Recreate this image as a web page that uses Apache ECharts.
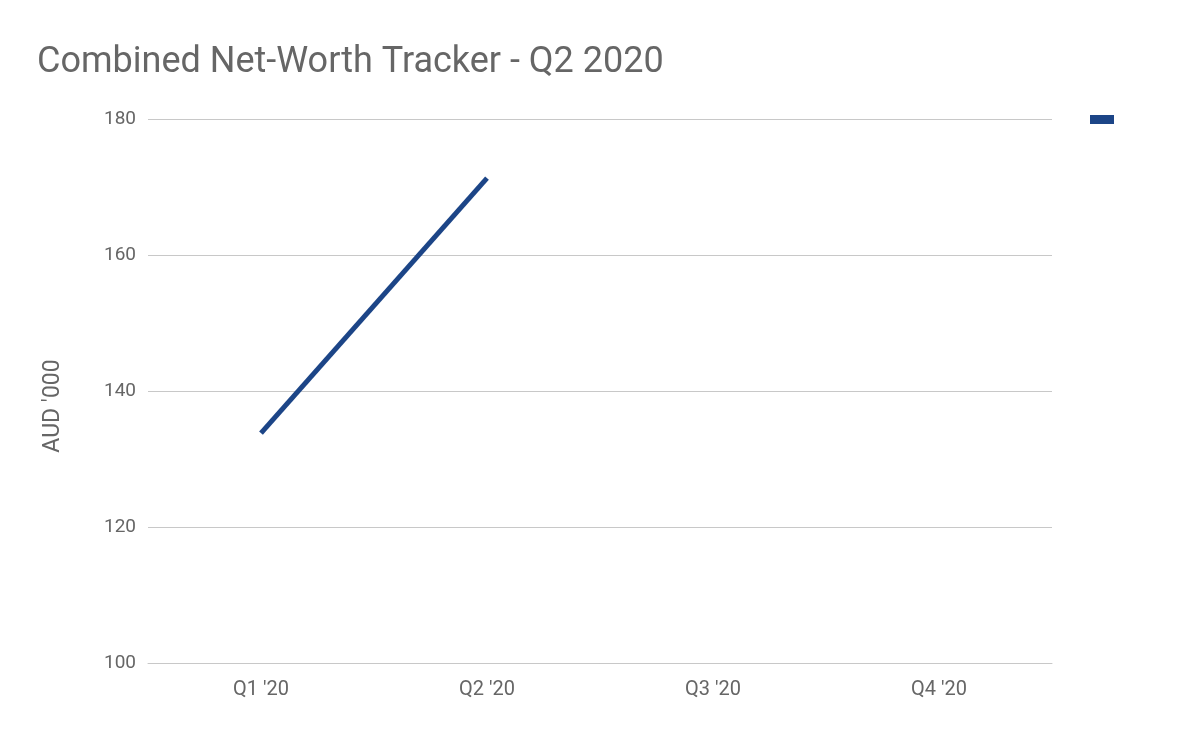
<!DOCTYPE html>
<html>
<head>
<meta charset="utf-8">
<script src="https://cdn.jsdelivr.net/npm/echarts@6/dist/echarts.min.js"></script>
<style>
html,body{margin:0;padding:0;background:#fff;}
#chart{width:1200px;height:742px;}
</style>
</head>
<body>
<div id="chart"></div>
<script>
const categories = ["Q1 '20", "Q2 '20", "Q3 '20", "Q4 '20"];
const netWorth = [133.8, 171.3, null, null];
const yTicks = { min: 100, max: 180, interval: 20 };
const titleText = "Combined Net-Worth Tracker - Q2 2020";
const yAxisName = "AUD '000";
const seriesName = "Net worth";

const chart = echarts.init(document.getElementById('chart'));
chart.setOption({
  animation: false,
  backgroundColor: '#ffffff',
  textStyle: { fontFamily: 'Roboto' },
  title: {
    text: titleText,
    left: 32,
    top: 40,
    textStyle: { fontFamily: 'Roboto', fontSize: 36, fontWeight: 'normal', color: '#666666' }
  },
  legend: {
    show: true,
    right: 81,
    top: 110,
    icon: 'rect',
    itemWidth: 24,
    itemHeight: 9,
    itemGap: 0,
    formatter: function () { return ''; },
    data: [seriesName]
  },
  grid: { left: 148, right: 148, top: 119, bottom: 79, containLabel: false },
  xAxis: {
    type: 'category',
    data: categories,
    boundaryGap: true,
    axisLine: { show: true, lineStyle: { color: '#c8c8c8', width: 1 } },
    axisTick: { show: false },
    axisLabel: { color: '#666666', fontSize: 20, margin: 17, fontFamily: 'Roboto' }
  },
  yAxis: {
    type: 'value',
    min: yTicks.min,
    max: yTicks.max,
    interval: yTicks.interval,
    name: yAxisName,
    nameLocation: 'middle',
    nameGap: 83,
    nameRotate: 90,
    nameTextStyle: { color: '#666666', fontSize: 23, fontFamily: 'Roboto', padding: [0, 30, 0, 0] },
    axisLine: { show: false },
    axisTick: { show: false },
    splitLine: { lineStyle: { color: '#c8c8c8', width: 1 } },
    axisLabel: { color: '#666666', fontSize: 19, margin: 12, fontFamily: 'Roboto' }
  },
  series: [{
    name: seriesName,
    type: 'line',
    data: netWorth,
    showSymbol: false,
    symbol: 'none',
    connectNulls: false,
    itemStyle: { color: '#1c4587' },
    lineStyle: { color: '#1c4587', width: 5 }
  }]
});
</script>
</body>
</html>
